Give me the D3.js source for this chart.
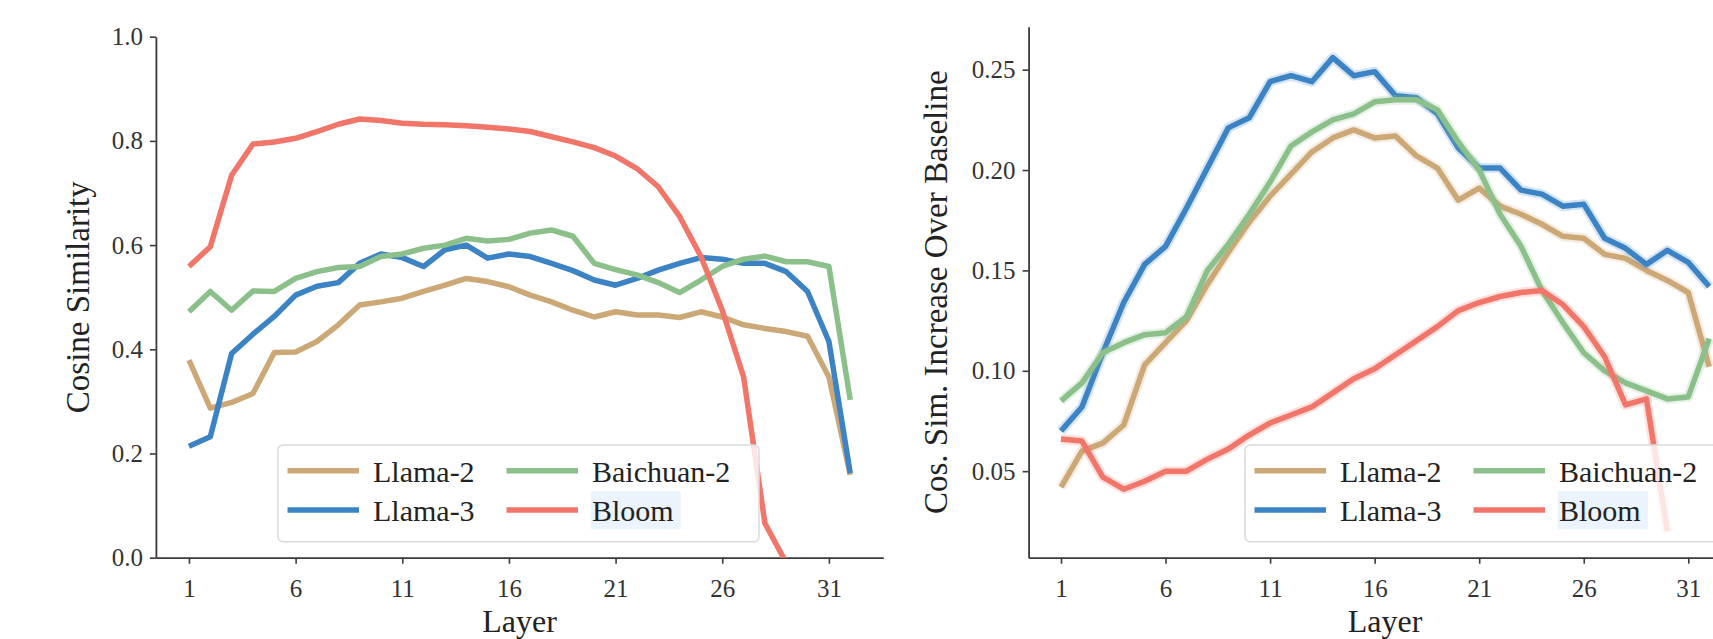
<!DOCTYPE html>
<html>
<head>
<meta charset="utf-8">
<script src="https://cdn.jsdelivr.net/npm/d3@7"></script>
<style>
  body { margin: 0; background: #fff; }
  svg { display: block; font-family: "Liberation Serif", serif; }
  .tick text { fill: #333; }
</style>
</head>
<body>
<svg></svg>
<script>
let width = 1713;
let height = 639;

let layers = [1, 2, 3, 4, 5, 6, 7, 8, 9, 10, 11, 12, 13, 14, 15, 16,
              17, 18, 19, 20, 21, 22, 23, 24, 25, 26, 27, 28, 29, 30, 31, 32];
let xTicks = [1, 6, 11, 16, 21, 26, 31];
let simTicks = [0, 0.2, 0.4, 0.6, 0.8, 1.0];
let incTicks = [0.05, 0.10, 0.15, 0.20, 0.25];

let modelNames = ["Llama-2", "Llama-3", "Baichuan-2", "Bloom"];
let colours = ["#cba876", "#3b83c4", "#8bc08b", "#f27569"];

// left panel: cosine similarity per layer
let simLlama2 = [0.379, 0.287, 0.298, 0.315, 0.394, 0.395, 0.415, 0.447, 0.485, 0.491, 0.498, 0.511,
                 0.523, 0.536, 0.530, 0.520, 0.504, 0.491, 0.475, 0.462, 0.472, 0.466, 0.466, 0.461,
                 0.472, 0.462, 0.447, 0.440, 0.434, 0.425, 0.347, 0.159];
let simLlama3 = [0.214, 0.232, 0.392, 0.429, 0.463, 0.504, 0.521, 0.528, 0.565, 0.583, 0.576, 0.559,
                 0.591, 0.600, 0.575, 0.583, 0.578, 0.565, 0.551, 0.533, 0.523, 0.536, 0.552, 0.565,
                 0.576, 0.573, 0.565, 0.565, 0.549, 0.511, 0.415, 0.162];
let simBaichuan2 = [0.472, 0.511, 0.475, 0.512, 0.511, 0.536, 0.549, 0.557, 0.559, 0.578, 0.583, 0.594,
                    0.600, 0.613, 0.608, 0.611, 0.623, 0.629, 0.617, 0.565, 0.553, 0.543, 0.528, 0.509,
                    0.533, 0.559, 0.573, 0.579, 0.568, 0.568, 0.559, 0.303];
let simBloom = [0.559, 0.597, 0.734, 0.794, 0.798, 0.805, 0.818, 0.832, 0.842, 0.839, 0.834, 0.832,
                0.831, 0.829, 0.826, 0.823, 0.818, 0.808, 0.798, 0.787, 0.771, 0.747, 0.712, 0.655,
                0.578, 0.475, 0.347, 0.066, -0.01];

// right panel: increase over baseline per layer
let incLlama2 = [0.042, 0.060, 0.064, 0.073, 0.103, 0.114, 0.125, 0.143, 0.159, 0.174, 0.187, 0.198,
                 0.209, 0.216, 0.220, 0.216, 0.217, 0.207, 0.201, 0.185, 0.191, 0.182, 0.178, 0.173,
                 0.167, 0.166, 0.158, 0.156, 0.150, 0.145, 0.139, 0.102];
let incLlama3 = [0.070, 0.082, 0.109, 0.134, 0.153, 0.162, 0.181, 0.201, 0.221, 0.226, 0.244, 0.247,
                 0.244, 0.256, 0.247, 0.249, 0.237, 0.236, 0.228, 0.211, 0.201, 0.201, 0.190, 0.188,
                 0.182, 0.183, 0.166, 0.161, 0.153, 0.160, 0.154, 0.142];
let incBaichuan2 = [0.085, 0.094, 0.109, 0.114, 0.118, 0.119, 0.127, 0.150, 0.163, 0.178, 0.194, 0.212,
                    0.219, 0.225, 0.228, 0.234, 0.235, 0.235, 0.230, 0.214, 0.200, 0.178, 0.162, 0.140,
                    0.124, 0.109, 0.100, 0.094, 0.090, 0.086, 0.087, 0.116];
let incBloom = [0.066, 0.065, 0.047, 0.041, 0.045, 0.050, 0.050, 0.056, 0.061, 0.068, 0.074, 0.078,
                0.082, 0.089, 0.096, 0.101, 0.108, 0.115, 0.122, 0.130, 0.134, 0.137, 0.139, 0.140,
                0.133, 0.122, 0.107, 0.083, 0.086, 0.020];


window.onload = function() {

  let svg = d3.select("svg")
    .attr("width", width)
    .attr("height", height)
    .style("background-color", "#fff");

  let panels = [
    {id: "sim", series: [simLlama2, simLlama3, simBaichuan2, simBloom],
     xRange: [155.9, 883.3], yDomain: [0, 1.0], yRange: [557.7, 36.7],
     ticks: simTicks, fmt: d3.format(".1f"), ylabel: "Cosine Similarity",
     ylabelX: 89, legendX: 278, band: false},
    {id: "inc", series: [incLlama2, incLlama3, incBaichuan2, incBloom],
     xRange: [1028.6, 1741.6], yDomain: [0.0069, 0.2714], yRange: [557.7, 26.7],
     ticks: incTicks, fmt: d3.format(".2f"), ylabel: "Cos. Sim. Increase Over Baseline",
     ylabelX: 947, legendX: 1245, band: true}
  ];

  let defs = svg.append("defs");

  panels.forEach(function(p) {
    let x = d3.scaleLinear().domain([-0.55, 33.55]).range(p.xRange);
    let y = d3.scaleLinear().domain(p.yDomain).range(p.yRange);
    let g = svg.append("g").attr("class", "panel-" + p.id);

    defs.append("clipPath").attr("id", "clip-" + p.id)
      .append("rect")
        .attr("x", p.xRange[0])
        .attr("y", p.yRange[1])
        .attr("width", p.xRange[1] - p.xRange[0])
        .attr("height", p.yRange[0] - p.yRange[1]);

    // axes (left + bottom only)
    let xAxis = g.append("g")
      .attr("transform", "translate(0," + p.yRange[0] + ")")
      .call(d3.axisBottom(x).tickValues(xTicks).tickSize(6).tickPadding(10).tickSizeOuter(0));
    let yAxis = g.append("g")
      .attr("transform", "translate(" + p.xRange[0] + ",0)")
      .call(d3.axisLeft(y).tickValues(p.ticks).tickFormat(p.fmt).tickSize(6).tickPadding(7).tickSizeOuter(0));

    [xAxis, yAxis].forEach(function(a) {
      a.select(".domain").attr("stroke", "#3a3a3a").attr("stroke-width", 1.8);
      a.selectAll(".tick line").attr("stroke", "#3a3a3a").attr("stroke-width", 1.6);
      a.selectAll(".tick text")
        .style("font-family", "Liberation Serif, serif")
        .attr("font-size", "25px");
    });
    xAxis.selectAll(".tick text").attr("dy", "0.95em");

    g.append("text")
      .attr("x", (p.xRange[0] + p.xRange[1]) / 2)
      .attr("y", 632)
      .attr("text-anchor", "middle")
      .attr("font-size", "32px")
      .attr("fill", "#222")
      .text("Layer");

    g.append("text")
      .attr("transform", "translate(" + p.ylabelX + "," + (p.yRange[0] + p.yRange[1]) / 2 + ") rotate(-90)")
      .attr("text-anchor", "middle")
      .attr("font-size", "33px")
      .attr("fill", "#222")
      .text(p.ylabel);

    // lines
    let line = d3.line()
      .x((d, i) => x(layers[i]))
      .y(d => y(d));

    let plot = g.append("g").attr("clip-path", "url(#clip-" + p.id + ")");

    p.series.forEach(function(vals, k) {
      if (p.band) {
        plot.append("path")
          .attr("d", line(vals))
          .attr("fill", "none")
          .attr("stroke", colours[k])
          .attr("stroke-width", 10)
          .attr("stroke-linejoin", "round")
          .attr("opacity", 0.22);
      }
      plot.append("path")
        .attr("d", line(vals))
        .attr("fill", "none")
        .attr("stroke", colours[k])
        .attr("stroke-width", 5.5)
        .attr("stroke-linejoin", "round");
    });

    // legend, two columns
    let lg = g.append("g").attr("transform", "translate(" + p.legendX + ",445)");
    lg.append("rect")
      .attr("x", 0).attr("y", 0)
      .attr("width", 481).attr("height", 96.7)
      .attr("rx", 5).attr("ry", 5)
      .attr("fill", "#fff")
      .attr("fill-opacity", 0.8)
      .attr("stroke", "#dadada")
      .attr("stroke-width", 1.5);

    modelNames.forEach(function(name, k) {
      let col = Math.floor(k / 2);
      let row = k % 2;
      let hx = col === 0 ? 9.5 : 228.5;
      let cy = row === 0 ? 25.7 : 65;
      if (name === "Bloom") {
        lg.append("rect")
          .attr("x", hx + 84.3)
          .attr("y", cy - 19)
          .attr("width", 90)
          .attr("height", 38.3)
          .attr("fill", "#ebf3fc");
      }
      lg.append("line")
        .attr("x1", hx).attr("x2", hx + 71.5)
        .attr("y1", cy).attr("y2", cy)
        .attr("stroke", colours[k])
        .attr("stroke-width", 5.5);
      lg.append("text")
        .attr("x", hx + 85.5)
        .attr("y", cy + 11)
        .attr("font-size", "30px")
        .attr("fill", "#222")
        .text(name);
    });
  });
}
</script>
</body>
</html>
